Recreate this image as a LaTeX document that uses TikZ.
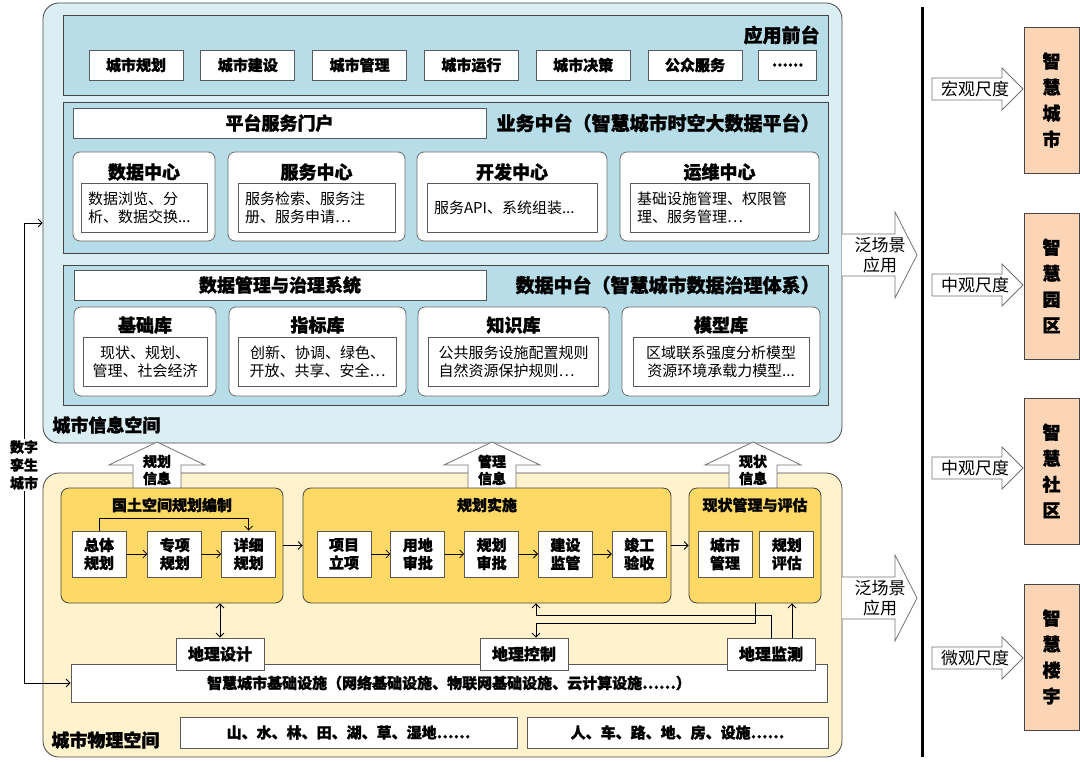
\documentclass[tikz,border=0pt]{standalone}
\usepackage{fontspec}
\setmainfont{Noto Sans CJK SC}[BoldFeatures={FakeBold=1.2}]
\usepackage{xcolor}
\usetikzlibrary{positioning, arrows.meta}

\definecolor{infobg}{RGB}{219,238,244}
\definecolor{layerbg}{RGB}{183,221,232}
\definecolor{physbg}{RGB}{255,242,204}
\definecolor{goldbg}{RGB}{255,217,102}
\definecolor{peachbg}{RGB}{251,213,181}
\definecolor{edge}{RGB}{70,70,70}

\tikzset{
  space/.style={draw=edge, line width=0.8pt, rounded corners=16pt},
  layer/.style={draw=edge, line width=0.8pt, fill=layerbg},
  card/.style={draw=edge!80, fill=white, rounded corners=7pt, line width=0.8pt},
  wbox/.style={draw=edge!90, fill=white, line width=0.8pt, inner sep=1pt},
  gold/.style={draw=edge, fill=goldbg, rounded corners=8pt, line width=0.8pt},
  fatarrow/.style={draw=black!55, fill=white, line width=0.8pt},
  bigtitle/.style={font=\fontsize{18}{22}\selectfont\bfseries, inner sep=1pt},
  layertitle/.style={font=\fontsize{19}{22}\selectfont\bfseries, inner sep=1pt, anchor=east},
  smallbold/.style={font=\fontsize{15}{18}\selectfont\bfseries, inner sep=1pt},
  desc/.style={font=\fontsize{15}{18}\selectfont},
  appbox/.style={wbox, smallbold, minimum width=94pt, minimum height=30pt},
  descbox/.style={wbox, desc, align=left, inner xsep=7pt, minimum height=49pt},
  libbox/.style={wbox, desc, align=center, minimum height=49pt},
  subbox/.style={wbox, smallbold, align=center, minimum width=54pt, minimum height=46pt},
  geobox/.style={wbox, font=\fontsize{16}{19}\selectfont\bfseries, minimum width=88pt, minimum height=32pt},
  sidetext/.style={font=\fontsize{17}{20}\selectfont, inner sep=0pt},
  scalebox/.style={draw=edge, fill=peachbg, line width=0.8pt, minimum width=55pt, minimum height=146pt,
    align=center, font=\fontsize{18}{26}\selectfont\bfseries}
}

\begin{document}
\begin{tikzpicture}[x=1pt, y=-1pt, >={Straight Barb[length=4pt,width=8pt]}, line width=0.8pt]
\useasboundingbox (0,0) rectangle (1080,762);

% two spaces
\node[space, fill=infobg, minimum width=799pt, minimum height=440pt] (info) at (442.5,223) {};
\node[space, fill=physbg, minimum width=799pt, minimum height=284pt] (phys) at (442.5,615) {};

% application front end
\node[layer, minimum width=765pt, minimum height=80pt] (front) at (445.5,55) {};
\node[layertitle] (frontt) at (821,35) {应用前台};
\node[appbox] (app1) at (136,65) {城市规划};
\node[appbox, right=17pt of app1] (app2) {城市建设};
\node[appbox, right=17pt of app2] (app3) {城市管理};
\node[appbox, right=17pt of app3] (app4) {城市运行};
\node[appbox, right=17pt of app4] (app5) {城市决策};
\node[appbox, right=17pt of app5] (app6) {公众服务};
\node[appbox, minimum width=58pt, right=16pt of app6] (app7) {......};

% business middle platform
\node[layer, minimum width=765pt, minimum height=151pt] (biz) at (445.5,177.5) {};
\node[wbox, bigtitle, minimum width=413pt, minimum height=30pt] (portal) at (279.5,123) {平台服务门户};
\node[layertitle] (bizt) at (821,123) {业务中台（智慧城市时空大数据平台）};

\node[card, minimum width=142pt, minimum height=89pt] (dc) at (144,196.5) {};
\node[bigtitle] (dct) at (144,172) {数据中心};
\node[descbox, text width=112pt] (dcd) at (144,207.5) {数据浏览、分\\析、数据交换...};

\node[card, minimum width=177pt, minimum height=89pt] (sc) at (316.5,196.5) {};
\node[bigtitle] (sct) at (316.5,172) {服务中心};
\node[descbox, text width=143pt] (scd) at (316.5,207.5) {服务检索、服务注\\册、服务申请…};

\node[card, minimum width=190pt, minimum height=89pt] (kc) at (512,196.5) {};
\node[bigtitle] (kct) at (512,172) {开发中心};
\node[descbox, text width=156pt] (kcd) at (512,207.5) {服务API、系统组装...};

\node[card, minimum width=199pt, minimum height=89pt] (yc) at (719.5,196.5) {};
\node[bigtitle] (yct) at (719.5,172) {运维中心};
\node[descbox, text width=165pt] (ycd) at (719.5,207.5) {基础设施管理、权限管\\理、服务管理…};

% data middle platform
\node[layer, minimum width=765pt, minimum height=140pt] (dat) at (445.5,335) {};
\node[wbox, bigtitle, minimum width=412pt, minimum height=30pt] (govern) at (280,285) {数据管理与治理系统};
\node[layertitle] (datt) at (821,285) {数据中台（智慧城市数据治理体系）};

\node[card, minimum width=142pt, minimum height=89pt] (jc) at (145,351.5) {};
\node[bigtitle] (jct) at (145,325) {基础库};
\node[libbox, minimum width=124pt] (jcd) at (145,361.5) {现状、规划、\\管理、社会经济};

\node[card, minimum width=177pt, minimum height=89pt] (zb) at (317.5,351.5) {};
\node[bigtitle] (zbt) at (317.5,325) {指标库};
\node[libbox, minimum width=158pt] (zbd) at (317.5,361.5) {创新、协调、绿色、\\开放、共享、安全…};

\node[card, minimum width=191pt, minimum height=89pt] (zs) at (513.5,351.5) {};
\node[bigtitle] (zst) at (513.5,325) {知识库};
\node[libbox, minimum width=170pt, align=left] (zsd) at (513.5,361.5) {公共服务设施配置规则\\自然资源保护规则…};

\node[card, minimum width=198pt, minimum height=89pt] (mx) at (721,351.5) {};
\node[bigtitle] (mxt) at (721,325) {模型库};
\node[libbox, minimum width=176pt] (mxd) at (721,361.5) {区域联系强度分析模型\\资源环境承载力模型...};

\node[bigtitle, anchor=west] (infot) at (51,425) {城市信息空间};

% information flowing up
\foreach \x/\a/\b [count=\i] in {157/规划/信息, 492/管理/信息, 753/现状/信息} {
  \draw[fatarrow] (\x-24,490) -- (\x-24,465) -- (\x-48,465) -- (\x,442) -- (\x+48,465) -- (\x+24,465) -- (\x+24,490);
  \node[smallbold, font=\fontsize{14}{17}\selectfont\bfseries, align=center] (up\i) at (\x,470) {\a\\\b};
}

% planning chain
\node[gold, minimum width=222pt, minimum height=115pt] (plan) at (172,545.5) {};
\node[smallbold] (plant) at (172,505) {国土空间规划编制};
\node[subbox] (zt) at (99,554) {总体\\规划};
\node[subbox, right=21pt of zt] (zx) {专项\\规划};
\node[subbox, right=19pt of zx] (xx) {详细\\规划};
\draw[->] (zt) -- (zx);
\draw[->] (zx) -- (xx);
\draw[->] (zt.north) -- ++(0,-12) -| (xx.north);

\node[gold, minimum width=368pt, minimum height=115pt] (impl) at (487,545.5) {};
\node[smallbold] (implt) at (487,505) {规划实施};
\node[subbox] (s1) at (344,554) {项目\\立项};
\node[subbox, right=19pt of s1] (s2) {用地\\审批};
\node[subbox, right=19pt of s2] (s3) {规划\\审批};
\node[subbox, right=19pt of s3] (s4) {建设\\监管};
\node[subbox, right=19pt of s4] (s5) {竣工\\验收};
\draw[->] (s1) -- (s2);
\draw[->] (s2) -- (s3);
\draw[->] (s3) -- (s4);
\draw[->] (s4) -- (s5);

\node[gold, minimum width=132pt, minimum height=115pt] (stat) at (755,545.5) {};
\node[smallbold] (statt) at (755,505) {现状管理与评估};
\node[subbox] (c1) at (725,554) {城市\\管理};
\node[subbox, right=7pt of c1] (c2) {规划\\评估};

\draw[->] (plan) -- (impl);
\draw[->] (impl) -- (stat);

% infrastructure and geo tools
\node[wbox, minimum width=756pt, minimum height=38pt, font=\fontsize{15}{18}\selectfont\bfseries] (bar) at (449,683) {智慧城市基础设施（网络基础设施、物联网基础设施、云计算设施……）};
\node[geobox] (gd) at (220,654) {地理设计};
\node[geobox] (gc) at (524,654) {地理控制};
\node[geobox] (gm) at (771,654) {地理监测};

\draw[<->] (gd.north) -- (gd.north |- plan.south);
\draw[->] (gm.north) |- ([xshift=49pt,yshift=-12pt]impl.south) -- ([xshift=49pt]impl.south);
\draw[->] (stat.south) |- ([xshift=12pt,yshift=14pt]gc.north) -- ([xshift=12pt]gc.north);
\draw[->] ([xshift=21pt]gm.north) -- ([xshift=21pt]gm.north |- stat.south);

% digital twin
\node[font=\fontsize{14}{18}\selectfont\bfseries, fill=white, align=center, inner sep=1pt] (twin) at (24,465) {数字\\孪生\\城市};
\draw[->] (twin) |- (info.west);
\draw[->] (twin) |- (bar.west);

% physical ground
\node[wbox, smallbold, minimum width=337pt, minimum height=31pt] (nat) at (348.5,732.5) {山、水、林、田、湖、草、湿地……};
\node[wbox, smallbold, minimum width=301pt, minimum height=31pt] (soc) at (677.5,732.5) {人、车、路、地、房、设施……};
\node[bigtitle, anchor=west] (physt) at (50,740) {城市物理空间};

% scenes and scales
\foreach \y [count=\i] in {255,598} {
  \draw[fatarrow] (842,\y-21) -- (895,\y-21) -- (895,\y-43) -- (917,\y) -- (895,\y+43) -- (895,\y+21) -- (842,\y+21);
  \node[sidetext, align=center] (pan\i) at (880,\y) {泛场景\\应用};
}
\draw[line width=3pt] (922,7) -- (922,757);

\foreach \y/\t [count=\i] in {89/宏观尺度, 285/中观尺度, 468/中观尺度, 658/微观尺度} {
  \draw[fatarrow] (932,\y-11) -- (1002,\y-11) -- (1002,\y-21) -- (1023,\y) -- (1002,\y+21) -- (1002,\y+11) -- (932,\y+11) -- cycle;
  \node[sidetext] (sc\i) at (975,\y) {\t};
}

\foreach \y/\a/\b [count=\i] in {100/城/市, 286/园/区, 471/社/区, 657/楼/宇} {
  \node[scalebox] (sm\i) at (1051.5,\y) {智\\慧\\\a\\\b};
}
\end{tikzpicture}
\end{document}
